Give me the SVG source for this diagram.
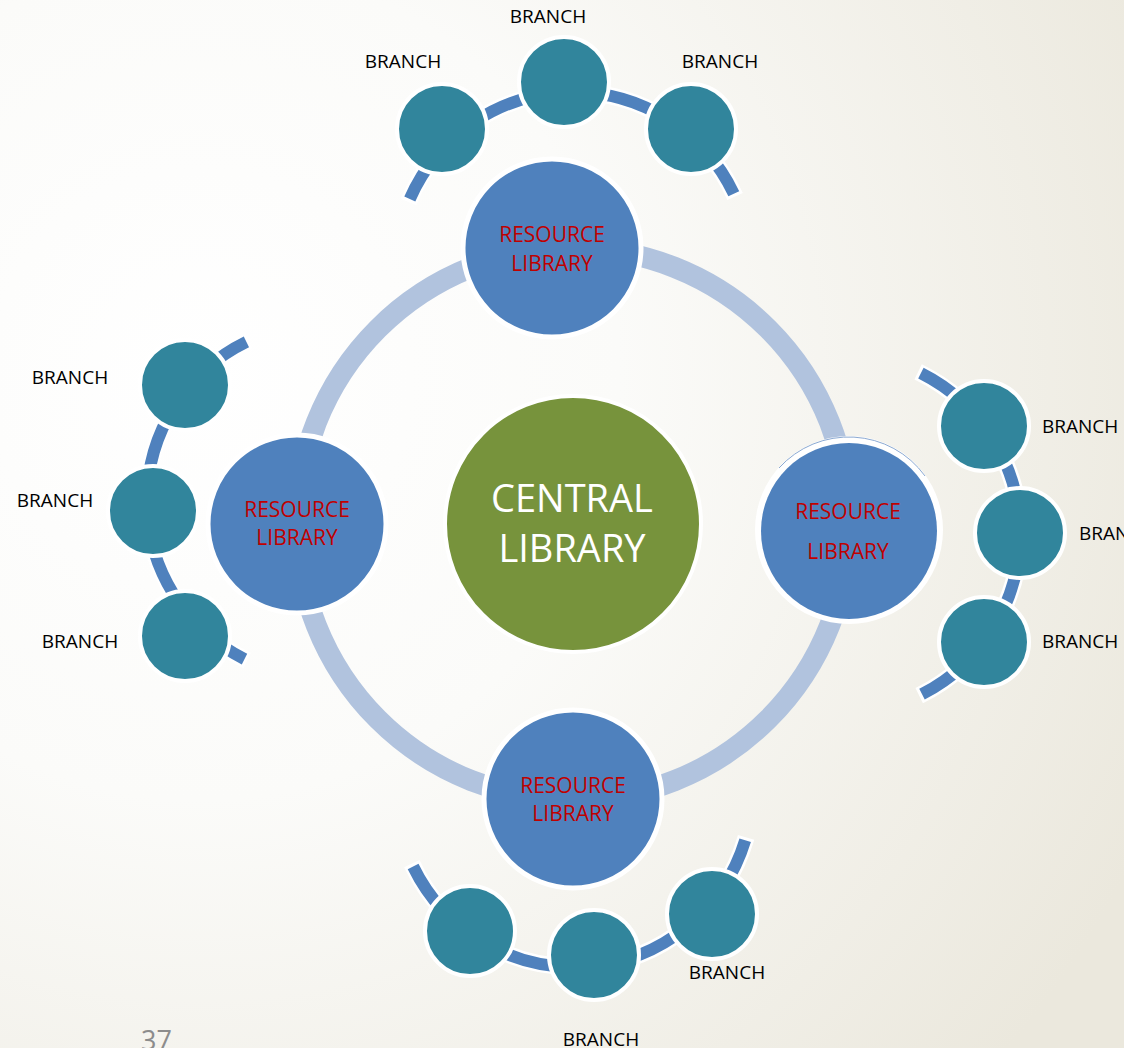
<svg xmlns="http://www.w3.org/2000/svg" width="1124" height="1048" viewBox="0 0 1124 1048">
  <defs>
    <radialGradient id="bg" gradientUnits="userSpaceOnUse" cx="200" cy="380" r="1050">
      <stop offset="0" stop-color="#ffffff"/>
      <stop offset="0.4" stop-color="#fbfbf9"/>
      <stop offset="1" stop-color="#ebe8dd"/>
    </radialGradient>
    <style>
      .ring { fill: none; stroke: #b1c3de; stroke-width: 21; }
      .arcw { fill: none; stroke: #ffffff; stroke-width: 17; }
      .arcb { fill: none; stroke: #4f81bd; stroke-width: 12; }
      .branch { fill: #31859c; stroke: #ffffff; stroke-width: 4; }
      .res { fill: #4f81bd; stroke: #ffffff; stroke-width: 5; }
      .central { fill: #77933c; stroke: #ffffff; stroke-width: 4; }
      .rt { font-family: "Open Sans", "Liberation Sans", sans-serif; font-size: 21px; fill: #c00000; text-anchor: middle; }
      .ct { font-family: "Open Sans", "Liberation Sans", sans-serif; font-size: 38px; fill: #ffffff; text-anchor: middle; }
      .bt { font-family: "Open Sans", "Liberation Sans", sans-serif; font-size: 19px; fill: #000000; }
      .mid { text-anchor: middle; }
      .pg { font-family: "Open Sans", "Liberation Sans", sans-serif; font-size: 27px; fill: #8c8c8c; }
    </style>
  </defs>

  <rect x="0" y="0" width="1124" height="1048" fill="url(#bg)"/>

  <g id="connectors">
    <circle class="ring" cx="573" cy="524" r="276"/>
    <!-- top cluster arc -->
    <path class="arcw" d="M408.5,201.9 A178,178 0 0 1 735.1,196.5"/>
    <path class="arcb" d="M409.8,199 A178,178 0 0 1 733.8,193.7"/>
    <!-- right cluster arc -->
    <path class="arcw" d="M918.1,371.8 A180,180 0 0 1 919.2,695.6"/>
    <path class="arcb" d="M920.9,373.2 A180,180 0 0 1 922,694.2"/>
    <!-- left cluster arc -->
    <path class="arcw" d="M247.2,660.5 A177,177 0 0 1 249.2,340.6"/>
    <path class="arcb" d="M244.5,659.1 A177,177 0 0 1 246.4,341.9"/>
    <!-- bottom cluster arc -->
    <path class="arcw" d="M746.1,837.3 A179,179 0 0 1 411.8,863.6"/>
    <path class="arcb" d="M745.2,840.3 A179,179 0 0 1 413.1,866.5"/>
  </g>

  <!-- top branches -->
  <g id="branch-top-left"><circle class="branch" cx="442" cy="129" r="45"/><text class="bt mid" x="403" y="68">BRANCH</text></g>
  <g id="branch-top-center"><circle class="branch" cx="564" cy="82" r="45"/><text class="bt mid" x="548" y="23">BRANCH</text></g>
  <g id="branch-top-right"><circle class="branch" cx="691" cy="129" r="45"/><text class="bt mid" x="720" y="68">BRANCH</text></g>

  <!-- right branches -->
  <g id="branch-right-top"><circle class="branch" cx="984" cy="426" r="45"/><text class="bt" x="1042" y="433">BRANCH</text></g>
  <g id="branch-right-mid"><circle class="branch" cx="1020" cy="533" r="45"/><text class="bt" x="1079" y="540">BRANCH</text></g>
  <g id="branch-right-bottom"><circle class="branch" cx="984" cy="642" r="45"/><text class="bt" x="1042" y="648">BRANCH</text></g>

  <!-- left branches -->
  <g id="branch-left-top"><circle class="branch" cx="185" cy="385" r="45"/><text class="bt mid" x="70" y="384">BRANCH</text></g>
  <g id="branch-left-mid"><circle class="branch" cx="153" cy="511" r="45"/><text class="bt mid" x="55" y="507">BRANCH</text></g>
  <g id="branch-left-bottom"><circle class="branch" cx="185" cy="636" r="45"/><text class="bt mid" x="80" y="648">BRANCH</text></g>

  <!-- bottom branches -->
  <g id="branch-bottom-left"><circle class="branch" cx="470" cy="931" r="45"/></g>
  <g id="branch-bottom-center"><circle class="branch" cx="594" cy="955" r="45"/><text class="bt mid" x="601" y="1046">BRANCH</text></g>
  <g id="branch-bottom-right"><circle class="branch" cx="712" cy="914" r="45"/><text class="bt mid" x="727" y="979">BRANCH</text></g>

  <!-- resource libraries -->
  <g id="resource-top">
    <circle class="res" cx="552" cy="248" r="89"/>
    <text class="rt" x="552" y="242">RESOURCE</text>
    <text class="rt" x="552" y="271">LIBRARY</text>
  </g>
  <g id="resource-left">
    <circle class="res" cx="297" cy="524" r="89"/>
    <text class="rt" x="297" y="517">RESOURCE</text>
    <text class="rt" x="297" y="545">LIBRARY</text>
  </g>
  <g id="resource-right">
    <circle cx="849" cy="530" r="94" fill="#ffffff"/>
    <path d="M779,468 A94,94 0 0 1 925,476" fill="none" stroke="#6d93c6" stroke-width="0.8"/>
    <circle cx="849" cy="531" r="88" fill="#4f81bd"/>
    <text class="rt" x="848" y="519">RESOURCE</text>
    <text class="rt" x="848" y="559">LIBRARY</text>
  </g>
  <g id="resource-bottom">
    <circle class="res" cx="573" cy="799" r="89"/>
    <text class="rt" x="573" y="793">RESOURCE</text>
    <text class="rt" x="573" y="821">LIBRARY</text>
  </g>

  <g id="central">
    <circle class="central" cx="573" cy="524" r="128"/>
    <text class="ct" x="572" y="512">CENTRAL</text>
    <text class="ct" x="572" y="562">LIBRARY</text>
  </g>

  <text class="pg" x="141" y="1050">37</text>
</svg>
